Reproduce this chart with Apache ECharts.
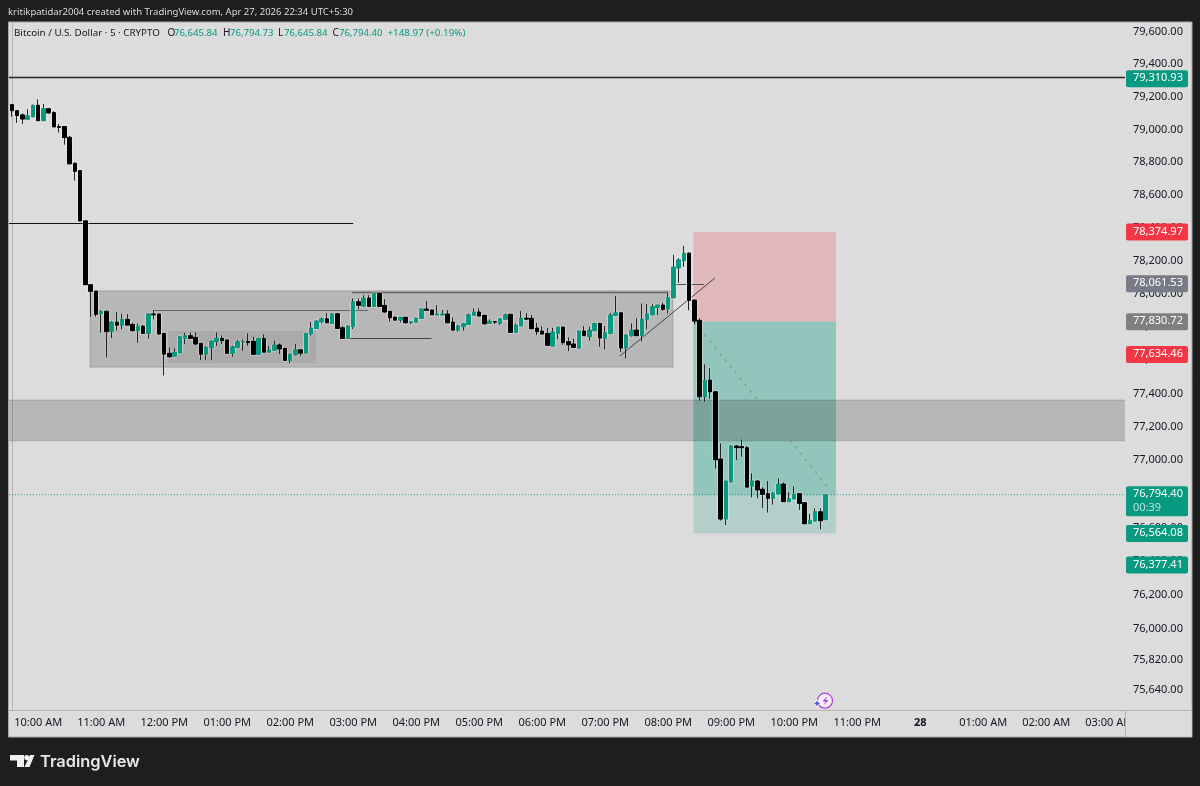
<!DOCTYPE html>
<html><head><meta charset="utf-8">
<style>html,body{margin:0;padding:0;background:#1e1e1e}#c{width:1200px;height:786px}</style>
<script src="https://cdn.jsdelivr.net/npm/echarts@6/dist/echarts.min.js"></script>
</head><body><div id="c"></div>
<script>
// 5-minute BTC/USD bars; bar 0 = 09:35
const opens = [79152,79115,79089,79063,79078,79148,79054,79127,79103,79018,79018,78952,78793,78748,78442,78055,78016,77879,77894,77771,
77829,77811,77846,77815,77777,77805,77761,77878,77878,77761,77641,77624,77644,77731,77747,77737,77701,77636,77674,77711,
77731,77721,77641,77677,77709,77713,77713,77635,77731,77648,77660,77691,77671,77596,77632,77662,77642,77757,77791,77831,
77849,77821,77879,77795,77731,77801,77952,77926,77974,77924,78002,77930,77894,77859,77841,77858,77825,77829,77852,77908,
77902,77872,77872,77878,77829,77781,77801,77815,77870,77890,77870,77822,77833,77821,77846,77876,77767,77806,77853,77852,
77793,77775,77761,77685,77761,77799,77711,77697,77673,77775,77741,77777,77821,77731,77761,77870,77885,77673,77747,77781,
77747,77846,77873,77918,77932,77908,77976,78157,78201,78246,77962,77840,77380,77480,77410,77007,76650,76872,77085,77081,
77075,76846,76876,76827,76801,76773,76799,76858,76753,76769,76801,76747,76622,76638,76693,76645.84];
const closes = [79115,79085,79064,79083,79148,79054,79127,79101,79016,79012,78950,78790,78744,78442,78055,78015,77876,77894,77771,77829,
77811,77846,77811,77777,77805,77761,77878,77873,77757,77636,77620,77647,77741,77747,77731,77697,77636,77677,77715,77733,
77717,77641,77680,77711,77713,77705,77635,77731,77648,77662,77691,77667,77598,77636,77662,77642,77761,77793,77835,77849,
77825,77878,77791,77731,77805,77952,77930,77974,77924,78002,77924,77890,77855,77841,77858,77825,77831,77853,77908,77900,
77873,77878,77878,77825,77781,77807,77819,77873,77890,77866,77819,77835,77829,77849,77873,77767,77811,77853,77847,77789,
77771,77757,77689,77769,77799,77705,77692,77677,77775,77747,77781,77821,77733,77765,77872,77885,77673,77751,77781,77747,
77847,77878,77922,77932,77906,77977,78161,78205,78246,77960,77835,77380,77480,77410,77003,76650,76876,77085,77075,77075,
76840,76876,76823,76797,76773,76803,76858,76753,76771,76799,76743,76622,76640,76693,76640,76794.40];
const lows = [79078,79040,79034,79058,79075,79054,79054,79099,79014,78981,78907,78788,78687,78440,78053,77861,77861,77765,77616,77733,
77777,77785,77808,77775,77704,77757,77729,77846,77754,77508,77616,77620,77642,77697,77730,77689,77600,77600,77600,77685,
77697,77639,77620,77671,77656,77686,77632,77630,77647,77644,77656,77636,77596,77580,77628,77624,77639,77747,77789,77821,
77823,77819,77789,77729,77729,77787,77906,77920,77922,77923,77922,77885,77831,77840,77828,77823,77817,77828,77850,77897,
77872,77870,77870,77823,77779,77771,77777,77813,77867,77864,77813,77819,77817,77811,77844,77765,77765,77805,77846,77787,
77751,77755,77686,77683,77727,77692,77654,77673,77667,77745,77717,77775,77680,77665,77755,77867,77648,77610,77741,77745,
77713,77785,77872,77872,77897,77881,77974,78067,78164,77900,77817,77354,77350,77368,76950,76640,76614,76866,77001,77021,
76838,76779,76773,76716,76688,76735,76797,76751,76751,76767,76704,76620,76620,76636,76589,76645.84];
const highs = [79156,79119,79099,79124,79152,79185,79156,79132,79112,79034,79018,78960,78798,78752,78445,78056,78018,77902,77902,77835,
77890,77878,77878,77825,77821,77811,77880,77902,77881,77763,77677,77671,77745,77765,77767,77767,77703,77685,77718,77767,
77749,77724,77688,77721,77725,77761,77741,77736,77755,77685,77717,77701,77673,77639,77697,77662,77763,77829,77840,77858,
77885,77884,77885,77807,77811,77972,77972,77992,77992,78004,78008,77968,77896,77861,77861,77861,77832,77856,77910,77956,
77905,77932,77902,77902,77858,77813,77825,77882,77912,77912,77873,77846,77834,77853,77882,77878,77821,77897,77884,77872,
77825,77805,77795,77795,77801,77801,77737,77729,77777,77805,77801,77825,77825,77805,77885,77988,77888,77757,77821,77852,
77942,77938,77938,77932,77946,78006,78236,78216,78290,78250,77964,77852,77575,77551,77415,77101,76879,77091,77091,77125,
77085,76922,76882,76839,76876,76812,76892,76868,76809,76845,76803,76748,76680,76714,76714,76794.73];

// price axis ticks
const priceTicks = [79600,79400,79200,79000,78800,78600,78400,78200,78000,77800,77600,77400,77200,77000,76800,76600,76400,76200,76000,75820,75640];
// time axis: bar index and label
const timeBars = [5,17,29,41,53,65,77,89,101,113,125,137,149,161,173,185,197,209];
const timeLabels = ['10:00 AM','11:00 AM','12:00 PM','01:00 PM','02:00 PM','03:00 PM','04:00 PM','05:00 PM','06:00 PM','07:00 PM','08:00 PM','09:00 PM','10:00 PM','11:00 PM','28','01:00 AM','02:00 AM','03:00 AM'];

// price tags on the axis
const tagPrices = [79310.93,78374.97,78061.53,77830.72,77634.46,76564.08,76377.41,76794.40];
const tagKinds  = ['up','down','neutral','neutralB','down','up','up','last'];

// drawings: [startBar, endBar, priceA, priceB]
const zoneRange = [14.86,125.9,78018,77557];
const zoneInner = [29.7,57.9,77775,77582];
const zoneBand  = [-2,214,77360,77117];
const zoneRisk  = [129.8,156.95,78374.97,77830.72];
const zoneProfit= [129.8,156.95,77830.72,76564.08];
const zoneActive= [129.8,156.95,77830.72,76794.40];
const lineTop    = [-0.6,212,79320,79320];
const lineLeft   = [-0.6,65,78430,78430];
const lineMid    = [26.86,67.8,77902,77902];
const lineRange  = [64.8,125,78013,78013];
const lineLow    = [63.75,79.9,77731,77731];
const lineTrend  = [115.8,133.9,77625,78096];
const lineShort  = [126.3,131.8,78061.53,78061.53];
const lineTarget = [130,155.75,77830.72,76825];
const lineLast   = [-0.6,212,76794.40,76794.40];

const TEAL='#089981', RED='#f23645', FONT='"Noto Sans",sans-serif', INK='#131722';
const bars = opens.map((_,i)=>i);
const zones = [
 {d:zoneRisk,  fill:'rgba(242,54,69,0.22)'},
 {d:zoneProfit,fill:'rgba(8,153,129,0.19)'},
 {d:zoneActive,fill:'rgba(8,153,129,0.19)'},
 {d:zoneRange, fill:'rgba(0,0,0,0.17)',stroke:'rgba(0,0,0,0.1)'},
 {d:zoneInner, fill:'rgba(0,0,0,0.07)'},
 {d:zoneBand,  fill:'rgba(0,0,0,0.17)',stroke:'rgba(0,0,0,0.1)'}
];
const lines = [
 {d:lineTop,c:'#222',w:1.3},{d:lineLeft,c:'#111',w:1},{d:lineMid,c:'#666',w:1},
 {d:lineRange,c:'#666',w:1.5},{d:lineLow,c:'#444',w:1},{d:lineTrend,c:'#444',w:1},
 {d:lineShort,c:'#555',w:1},{d:lineTarget,c:'#8a9490',w:1.2,dash:[3,5]},{d:lineLast,c:TEAL,w:1,dash:[1,2]}
];
const tagColor={up:TEAL,down:RED,neutral:'#787b86',neutralB:'#7f7f7f',last:TEAL};
const fmt=v=>v.toLocaleString('en-US',{minimumFractionDigits:2,maximumFractionDigits:2});
const txt=(x,y,s,fill,size,extra)=>({type:'text',x,y,silent:true,z:20,style:Object.assign({text:s,fill,font:`${size}px ${FONT}`,textVerticalAlign:'middle'},extra||{})});
const halo={shadowColor:'rgba(255,255,255,0.9)',shadowBlur:2};
const bodyData=bars.map(i=>[i,opens[i],closes[i],Math.min(opens[i],closes[i]),Math.max(opens[i],closes[i])]);

const option={
 animation:false,backgroundColor:'#1e1e1e',
 grid:{left:9,top:23,width:1116,height:687,containLabel:false},
 xAxis:{type:'value',min:-0.5714,max:212,splitLine:{show:false},axisTick:{show:false},
  axisLine:{show:true,onZero:false,lineStyle:{color:'#b4b4b4',width:1}},
  axisLabel:{customValues:timeBars,margin:7,color:INK,fontFamily:FONT,fontSize:11,hideOverlap:false,showMinLabel:true,showMaxLabel:true,
   formatter:v=>{const s=timeLabels[timeBars.indexOf(v)]||'';return s==='28'?'{b|28}':s;},
   rich:{b:{fontWeight:'bold',fontSize:11,fontFamily:FONT,color:INK}}}},
 yAxis:{type:'log',logBase:Math.E,min:75523.6,max:79654.7,position:'right',scale:true,splitLine:{show:false},minorSplitLine:{show:false},axisTick:{show:false},
  axisLine:{show:true,lineStyle:{color:'#b4b4b4',width:1}},
  axisLabel:{customValues:priceTicks,margin:8,color:INK,fontFamily:FONT,fontSize:11,padding:[0,0,2,0],hideOverlap:false,
   formatter:v=>fmt(Math.round(v))}},
 series:[
  {type:'custom',name:'zones',coordinateSystem:'cartesian2d',z:1,clip:true,silent:true,
   data:zones.map((z,i)=>[z.d[0],z.d[2],i]),
   renderItem:(p,api)=>{const z=zones[p.dataIndex];const a=api.coord([z.d[0],z.d[2]]),b=api.coord([z.d[1],z.d[3]]);
    return {type:'rect',shape:{x:a[0],y:a[1],width:b[0]-a[0],height:b[1]-a[1]},style:{fill:z.fill,stroke:z.stroke||null,lineWidth:z.stroke?1.5:0}};}},
  {type:'custom',name:'lines',coordinateSystem:'cartesian2d',z:2,clip:true,silent:true,
   data:lines.map((l,i)=>[l.d[0],l.d[2],i]),
   renderItem:(p,api)=>{const l=lines[p.dataIndex];const a=api.coord([l.d[0],l.d[2]]),b=api.coord([l.d[1],l.d[3]]);
    if(a[1]===b[1]&&!l.dash){a[1]=b[1]=Math.round(a[1])+0.5;}
    return {type:'line',shape:{x1:a[0],y1:a[1],x2:b[0],y2:b[1]},style:{stroke:l.c,lineWidth:l.w,lineDash:l.dash||null}};}},
  {type:'candlestick',name:'halo',z:3,barWidth:4,silent:true,data:bodyData,
   itemStyle:Object.assign({color:'#888',color0:'#888',borderColor:'#888',borderColor0:'#888',borderWidth:1},halo)},
  {type:'candlestick',name:'wicks',z:4,barWidth:1,silent:true,
   data:bars.map(i=>[i,opens[i],closes[i],lows[i],highs[i]]),
   itemStyle:Object.assign({color:'#222',color0:'#222',borderColor:'#222',borderColor0:'#222',borderWidth:1},{shadowColor:'rgba(255,255,255,0.7)',shadowBlur:1.5})},
  {type:'candlestick',name:'bodies',z:5,barWidth:4,silent:true,data:bodyData,
   itemStyle:{color:TEAL,color0:'#000',borderColor:TEAL,borderColor0:'#000',borderWidth:1}},
  {type:'custom',name:'tags',coordinateSystem:'cartesian2d',z:6,clip:false,silent:true,
   data:tagPrices.map((v,i)=>[212,v,i]),
   renderItem:(p,api)=>{const i=p.dataIndex,v=tagPrices[i],k=tagKinds[i];const c=api.coord([212,v]);const last=k==='last';
    const kids=[{type:'rect',shape:{x:c[0]+1,y:c[1]-8.5,width:62,height:last?30:17,r:2},style:{fill:tagColor[k]}},
     {type:'text',x:c[0]+8,y:c[1]-0.5,style:{text:fmt(v),fill:'#fff',font:`11px ${FONT}`,textVerticalAlign:'middle'}}];
    if(last)kids.push({type:'text',x:c[0]+8,y:c[1]+13,style:{text:'00:39',fill:'#b9e0d9',font:`11px ${FONT}`,textVerticalAlign:'middle'}});
    return {type:'group',children:kids};}}
 ],
 graphic:{elements:[
  {type:'rect',z:-10,silent:true,shape:{x:8.5,y:22,width:1183.5,height:715},style:{fill:'#dcdcdc',stroke:'#a8a8a8',lineWidth:1}},
  {type:'rect',z:15,silent:true,shape:{x:1125.5,y:711,width:66,height:25.5},style:{fill:'#dcdcdc'}},
  {type:'line',z:16,silent:true,shape:{x1:1125,y1:710.5,x2:1192,y2:710.5},style:{stroke:'#b4b4b4',lineWidth:1}},
  {type:'line',z:16,silent:true,shape:{x1:1125.5,y1:710,x2:1125.5,y2:737},style:{stroke:'#b4b4b4',lineWidth:1}},
  txt(8,12,'kritikpatidar2004 created with TradingView.com, Apr 27, 2026 22:34 UTC+5:30','#dcdcdc',9.5),
  txt(14,33.5,'Bitcoin / U.S. Dollar · 5 · CRYPTO',INK,9.8),
  txt(167.5,33.5,'O',INK,10),txt(174,33.5,'76,645.84',TEAL,9.6),
  txt(223,33.5,'H',INK,10),txt(230,33.5,'76,794.73',TEAL,9.6),
  txt(278,33.5,'L',INK,10),txt(284,33.5,'76,645.84',TEAL,9.6),
  txt(332.5,33.5,'C',INK,10),txt(339,33.5,'76,794.40',TEAL,9.6),
  txt(387.5,33.5,'+148.97 (+0.19%)',TEAL,9.8),
  // TradingView logo
  {type:'polygon',z:20,silent:true,shape:{points:[[10,755],[24,755],[24,767],[17,767],[17,760.5],[10,760.5]]},style:{fill:'#f0f0f0'}},
  {type:'circle',z:20,silent:true,shape:{cx:26.8,cy:757.6,r:2.6},style:{fill:'#f0f0f0'}},
  {type:'polygon',z:20,silent:true,shape:{points:[[30,755],[34.5,755],[29.5,767],[24.5,767]]},style:{fill:'#f0f0f0'}},
  {type:'text',z:20,x:40,y:762,silent:true,style:{text:'TradingView',fill:'#e8e8e8',font:'600 16.4px Inter,sans-serif',textVerticalAlign:'middle'}},
  // bolt badge
  {type:'circle',z:20,silent:true,shape:{cx:825,cy:700.7,r:7.5},style:{fill:'#f4f0f7',stroke:'#b03fd6',lineWidth:1.2}},
  {type:'polygon',z:21,silent:true,shape:{points:[[827.5,696],[822.5,701.5],[825.5,701.5],[823.5,705.5],[828.5,700],[825.5,700]]},style:{fill:'#b03fd6'}},
  {type:'polygon',z:21,silent:true,shape:{points:[[817,699.5],[818.3,702.2],[821,703.5],[818.3,704.8],[817,707.5],[815.7,704.8],[813,703.5],[815.7,702.2]]},style:{fill:'#5b4fe0',stroke:'#fff',lineWidth:0.8}}
 ]}
};
const chart=echarts.init(document.getElementById('c'),null,{renderer:'canvas',width:1200,height:786});
chart.setOption(option);
</script></body></html>
